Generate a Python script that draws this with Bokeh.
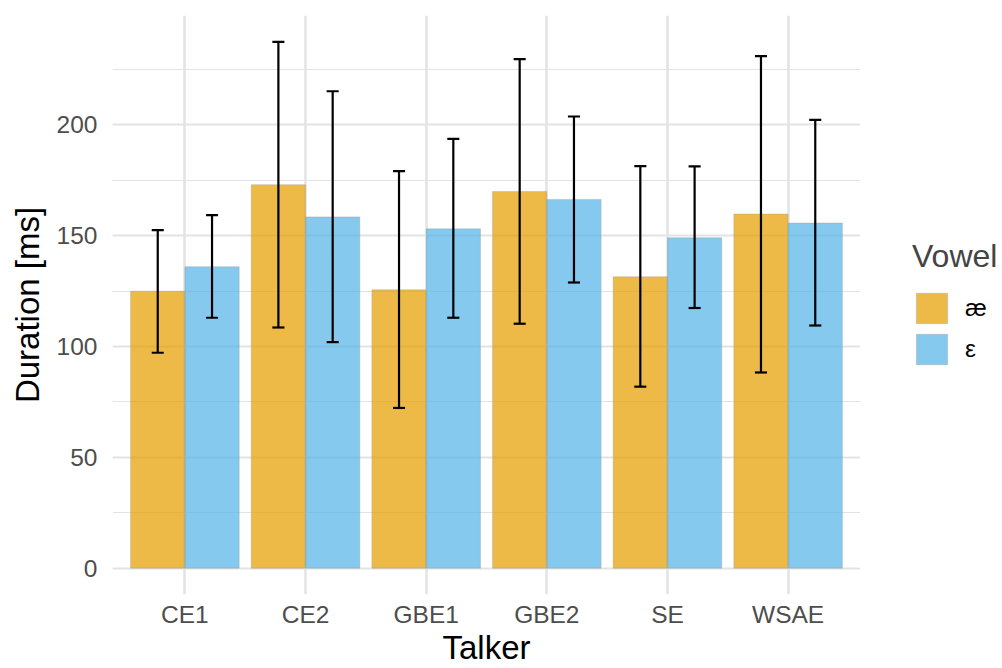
from bokeh.plotting import figure
from bokeh.layouts import row
from bokeh.models import (Range1d, FixedTicker, SingleIntervalTicker, Legend, LegendItem,
                          ColumnDataSource)
from bokeh.embed import file_html
from bokeh.resources import INLINE

talkers = ["CE1", "CE2", "GBE1", "GBE2", "SE", "WSAE"]
vowels = ["æ", "ε"]
mean_ae = [125, 173, 125.6, 170, 131.5, 159.8]
low_ae = [97.2, 108.6, 72.3, 110.3, 81.9, 88.3]
high_ae = [152.5, 237.5, 179.2, 229.7, 181.4, 231]
mean_eh = [136, 158.5, 153.1, 166.4, 149.1, 155.7]
low_eh = [113, 102, 113, 128.9, 117.4, 109.5]
high_eh = [159.3, 215.2, 193.7, 203.8, 181.3, 202.3]
colors = ["#E69F00", "#56B4E9"]

FONT = "Liberation Sans"
top = max(high_ae + high_eh)
pad = 0.05 * top

p = figure(width=860, height=668, output_backend="svg", toolbar_location=None,
           x_range=Range1d(0.4, len(talkers) + 0.6), y_range=Range1d(-pad, top + pad),
           min_border_left=112, min_border_top=15, min_border_bottom=70, min_border_right=0)
p.outline_line_color = None
p.background_fill_color = "white"

# grid
p.xgrid.ticker = FixedTicker(ticks=list(range(1, len(talkers) + 1)))
p.xgrid.grid_line_color = "#E3E3E3"
p.xgrid.grid_line_width = 2.5
p.yaxis.ticker = SingleIntervalTicker(interval=50, num_minor_ticks=2)
p.ygrid.grid_line_color = "#E3E3E3"
p.ygrid.grid_line_width = 2.2
p.ygrid.minor_grid_line_color = "#E3E3E3"
p.ygrid.minor_grid_line_width = 1.2

# legend-only figure (its proxy glyphs hold the real data but lie outside its range)
lf = figure(width=142, height=668, output_backend="svg", toolbar_location=None,
            x_axis_type=None, y_axis_type=None, min_border=0,
            x_range=Range1d(-20, -10), y_range=Range1d(-20, -10))
lf.outline_line_color = None
lf.xgrid.visible = False
lf.ygrid.visible = False

series = [(mean_ae, low_ae, high_ae, -0.225), (mean_eh, low_eh, high_eh, 0.225)]
items = []
for (m, lo, hi, off), col, v in zip(series, colors, vowels):
    xs = [i + 1 + off for i in range(len(talkers))]
    src = ColumnDataSource(dict(x=xs, top=m, lo=lo, hi=hi,
                                xl=[x - 0.05 for x in xs], xr=[x + 0.05 for x in xs]))
    p.vbar(x="x", top="top", bottom=0, width=0.45, source=src, fill_color=col,
           fill_alpha=0.72, line_color="#9a9a9a", line_alpha=0.35, line_width=1)
    proxy = lf.vbar(x="x", top="top", bottom=0, width=0.45, source=src, fill_color=col,
                    fill_alpha=0.72, line_color="#9a9a9a", line_alpha=0.35, line_width=1)
    items.append(LegendItem(label=v, renderers=[proxy]))
    p.segment(x0="x", y0="lo", x1="x", y1="hi", source=src, line_color="black", line_width=2.2)
    p.segment(x0="xl", y0="hi", x1="xr", y1="hi", source=src, line_color="black", line_width=2.2)
    p.segment(x0="xl", y0="lo", x1="xr", y1="lo", source=src, line_color="black", line_width=2.2)

# axes
p.xaxis.ticker = FixedTicker(ticks=list(range(1, len(talkers) + 1)))
p.xaxis.major_label_overrides = {i + 1: t for i, t in enumerate(talkers)}
for ax in (p.xaxis[0], p.yaxis[0]):
    ax.axis_line_color = None
    ax.major_tick_line_color = None
    ax.minor_tick_line_color = None
    ax.major_tick_out = 0
    ax.major_tick_in = 0
    ax.minor_tick_out = 0
    ax.major_label_text_font = FONT
    ax.major_label_text_font_size = "24.5px"
    ax.major_label_text_color = "#4D4D4D"
    ax.axis_label_text_font = FONT
    ax.axis_label_text_font_size = "33px"
    ax.axis_label_text_font_style = "normal"
    ax.axis_label_text_color = "black"
p.xaxis.axis_label = "Talker"
p.yaxis.axis_label = "Duration [ms]"
p.xaxis.major_label_standoff = 6
p.xaxis.axis_label_standoff = -2
p.yaxis.major_label_standoff = 15
p.yaxis.axis_label_standoff = 8

legend = Legend(items=items, title="Vowel", location=(52, 226),
                glyph_width=39, glyph_height=38, spacing=3, label_standoff=14,
                padding=0, margin=0, border_line_color=None, background_fill_alpha=0)
legend.title_text_font = FONT
legend.title_text_font_size = "32px"
legend.title_text_font_style = "normal"
legend.title_standoff = 14
legend.label_text_font = FONT
legend.label_text_font_size = "24.5px"
legend.label_text_color = "black"
lf.add_layout(legend)

layout = row(p, lf, spacing=0)
open("out.html", "w").write(file_html(layout, INLINE))
